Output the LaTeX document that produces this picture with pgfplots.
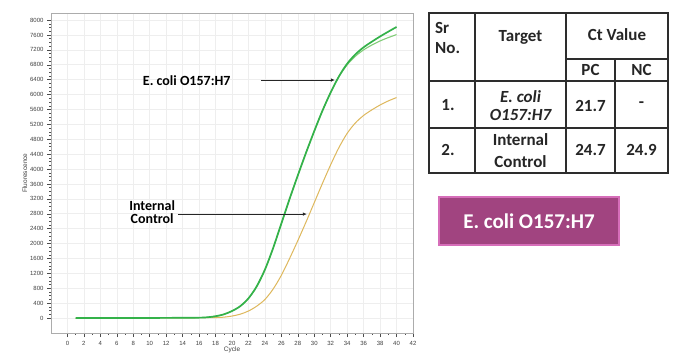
\documentclass[border=0pt]{standalone}
\usepackage{pgfplots}
\pgfplotsset{compat=1.18}
\usepackage{fontspec}
\setmainfont{Carlito}
\setsansfont{Liberation Sans}
\usetikzlibrary{arrows.meta}
\definecolor{gA}{RGB}{52,178,74}
\definecolor{gB}{RGB}{130,205,120}
\definecolor{oA}{RGB}{222,184,92}
\definecolor{tline}{RGB}{45,45,45}
\definecolor{purp}{RGB}{161,68,128}
\definecolor{purpb}{RGB}{214,110,185}
\begin{document}
\begin{tikzpicture}
\path[use as bounding box, fill=white] (0pt,0pt) rectangle (678pt,-356pt);
\begin{axis}[
  at={(51pt,-333pt)}, anchor=south west,
  scale only axis, width=362pt, height=320pt,
  xmin=-2, xmax=42, ymin=-400, ymax=8190,
  xtick={0,2,...,42}, ytick={0,400,...,8000},
  minor x tick num=1, minor y tick num=3,
  tick align=outside, tick pos=left,
  major tick length=4pt, minor tick length=2pt,
  every tick/.style={gray!60!black, line width=0.5pt},
  axis line style={gray!65},
  grid=major, major grid style={gray!13, line width=0.6pt},
  /pgf/number format/assume math mode=true,
  /pgf/number format/1000 sep={},
  tick label style={font=\sffamily\fontsize{6}{7}\selectfont, text=gray!50!black},
  xticklabel style={yshift=-1pt},
  xlabel={Cycle}, ylabel={Fluorescence},
  label style={font=\sffamily\fontsize{6.5}{7}\selectfont, text=gray!50!black},
  xlabel style={yshift=6pt},
  ylabel style={yshift=-4pt},
  clip=false,
]
% Internal control (orange)
\addplot[oA, line width=1.0pt, smooth] table {
x y
1 0
4 2
8 4
12 6
16 10
18 15
19 25
20 55
21 105
22 190
23 320
24 500
25 780
26 1150
27 1600
28 2080
29 2580
30 3100
31 3620
32 4120
33 4580
34 4960
35 5240
36 5440
37 5590
38 5720
39 5830
40 5920
};
% E. coli replicate (lighter green)
\addplot[gB, line width=1.1pt, smooth] table {
x y
1 0
4 2
8 4
12 6
16 12
17 22
18 50
19 100
20 190
21 320
22 530
23 850
24 1300
25 1880
26 2540
27 3200
28 3830
29 4440
30 5020
31 5570
32 6060
33 6480
34 6800
35 7030
36 7200
37 7330
38 7440
39 7530
40 7610
};
% E. coli (green)
\addplot[gA, line width=1.7pt, smooth] table {
x y
1 0
4 2
8 4
12 6
16 12
17 22
18 50
19 100
20 190
21 320
22 530
23 850
24 1300
25 1880
26 2540
27 3200
28 3830
29 4440
30 5020
31 5570
32 6060
33 6490
34 6830
35 7080
36 7270
37 7420
38 7560
39 7690
40 7815
};
\node[font=\bfseries\fontsize{14}{16}\selectfont] at (axis cs:14.5,6364) {E. coli O157:H7};
\draw[-{Latex[length=4pt,width=3.5pt]}, gray!30!black, line width=0.7pt] (axis cs:23.5,6390) -- (axis cs:32.5,6390);
\node[font=\bfseries\fontsize{14}{16}\selectfont, align=center] at (axis cs:10.3,2846) {Internal\\[-3pt]Control};
\draw[-{Latex[length=4pt,width=3.5pt]}, gray!30!black, line width=0.7pt] (axis cs:13.45,2792) -- (axis cs:29.1,2792);
\end{axis}
% Table
\begin{scope}[tline, line width=1.6pt]
\draw (429pt,-13pt) rectangle (668pt,-173pt);
\draw (475pt,-13pt) -- (475pt,-173pt);
\draw (566pt,-13pt) -- (566pt,-173pt);
\draw (615pt,-59pt) -- (615pt,-173pt);
\draw (566pt,-59pt) -- (668pt,-59pt);
\draw (429pt,-81pt) -- (668pt,-81pt);
\draw (429pt,-128pt) -- (668pt,-128pt);
\end{scope}
\begin{scope}[every node/.style={font=\bfseries\fontsize{17}{19}\selectfont, text=black!85, inner sep=0pt}]
\node[anchor=west] at (435pt,-28pt) {Sr};
\node[anchor=west] at (435pt,-48pt) {No.};
\node at (520.5pt,-37pt) {Target};
\node at (617pt,-35pt) {Ct Value};
\node at (590.5pt,-70pt) {PC};
\node at (641.5pt,-70pt) {NC};
\node at (448pt,-105pt) {1.};
\node at (520.5pt,-97pt) {\itshape E. coli};
\node at (520.5pt,-115pt) {\itshape O157:H7};
\node at (590.5pt,-106pt) {21.7};
\node at (641.5pt,-105pt) {-};
\node at (448pt,-150pt) {2.};
\node at (520.5pt,-140pt) {Internal};
\node at (520.5pt,-162pt) {Control};
\node at (590.5pt,-150pt) {24.7};
\node at (641.5pt,-150pt) {24.9};
\end{scope}
% Purple label
\draw[fill=purp, draw=purpb, line width=1.2pt] (439pt,-197pt) rectangle (619pt,-245pt);
\node[text=white, font=\bfseries\fontsize{21}{24}\selectfont] at (529pt,-221pt) {E. coli O157:H7};
\end{tikzpicture}
\end{document}
